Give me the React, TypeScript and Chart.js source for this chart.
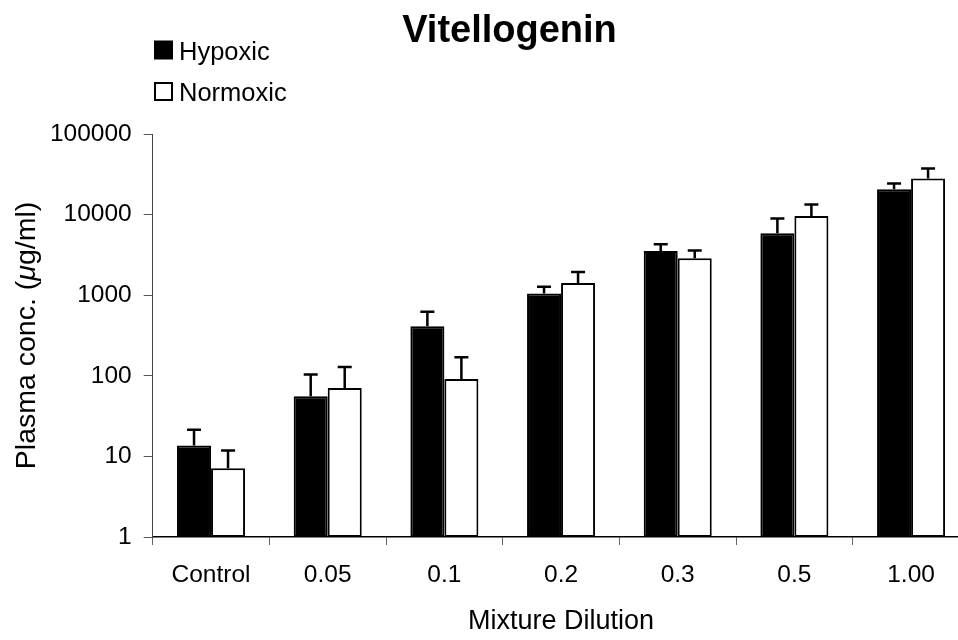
import { useEffect, useRef } from 'react';
import { Chart, registerables } from 'chart.js';

Chart.register(...registerables);

const categories = ['Control', '0.05', '0.1', '0.2', '0.3', '0.5', '1.00'];
const hypoxicMean = [13.7, 55.6, 413, 1052, 3540, 5870, 20700];
const hypoxicSE = [7.7, 48, 210, 225, 745, 3070, 3700];
const normoxicMean = [7.15, 70.7, 91.5, 1415, 2870, 9640, 28100];
const normoxicSE = [4.65, 58, 78.5, 522, 705, 3720, 9300];
const yTicks = [1, 10, 100, 1000, 10000, 100000];
const seriesLabels = ['Hypoxic', 'Normoxic'];
const titleText = 'Vitellogenin';
const xTitle = 'Mixture Dilution';
const yTitleParts: [string, boolean][] = [
  ['Plasma conc. (', false],
  ['μ', true],
  ['g/ml)', false],
];

const FONT = '"Liberation Sans", Arial, Helvetica, sans-serif';

const decor = {
  id: 'decor',
  afterDatasetsDraw(chart: any) {
    const ctx = chart.ctx;
    const y = chart.scales.y;
    ctx.save();
    ctx.strokeStyle = '#000';
    ctx.lineWidth = 2.5;
    chart.data.datasets.forEach((ds: any, di: number) => {
      const meta = chart.getDatasetMeta(di);
      meta.data.forEach((el: any, i: number) => {
        const v = ds.data[i] as number;
        const top = y.getPixelForValue(v + ds.errors[i]);
        const x = el.x;
        ctx.beginPath();
        ctx.moveTo(x, el.y);
        ctx.lineTo(x, top);
        ctx.moveTo(x - 7, top);
        ctx.lineTo(x + 7, top);
        ctx.stroke();
      });
    });
    ctx.restore();
  },
  afterDraw(chart: any) {
    const ctx = chart.ctx;
    const area = chart.chartArea;
    ctx.save();
    ctx.fillStyle = '#000';
    // title
    ctx.font = `bold 38px ${FONT}`;
    ctx.textAlign = 'center';
    ctx.textBaseline = 'alphabetic';
    ctx.fillText(titleText, 509.5, 42);
    // legend
    chart.data.datasets.forEach((ds: any, i: number) => {
      const sy = 41.5 + i * 41.5;
      ctx.fillStyle = ds.backgroundColor;
      ctx.fillRect(155, sy, 17, 17);
      ctx.strokeStyle = '#000';
      ctx.lineWidth = 2;
      ctx.strokeRect(155, sy, 17, 17);
      ctx.fillStyle = '#000';
      ctx.font = `25.5px ${FONT}`;
      ctx.textAlign = 'left';
      ctx.fillText(ds.label, 179, 60 + i * 40.5);
    });
    // x title
    ctx.font = `27px ${FONT}`;
    ctx.textAlign = 'center';
    ctx.fillText(xTitle, (area.left + area.right) / 2, 628.5);
    // y title with italic mu
    ctx.translate(35, (area.top + area.bottom) / 2);
    ctx.rotate(-Math.PI / 2);
    const widths = yTitleParts.map(([t, it]) => {
      ctx.font = `${it ? 'italic ' : ''}28.5px ${FONT}`;
      return ctx.measureText(t).width;
    });
    const total = widths.reduce((a, b) => a + b, 0);
    let x = -total / 2;
    ctx.textAlign = 'left';
    yTitleParts.forEach(([t, it], i) => {
      ctx.font = `${it ? 'italic ' : ''}28.5px ${FONT}`;
      ctx.fillText(t, x, 0);
      x += widths[i];
    });
    ctx.restore();
  },
};

export default function App() {
  const ref = useRef<HTMLCanvasElement | null>(null);

  useEffect(() => {
    if (!ref.current) return;
    const chart = new Chart(ref.current, {
      type: 'bar',
      data: {
        labels: categories,
        datasets: [
          {
            label: seriesLabels[0],
            data: hypoxicMean,
            errors: hypoxicSE,
            backgroundColor: '#000',
            borderColor: '#000',
            borderWidth: 2,
            borderSkipped: false,
          } as any,
          {
            label: seriesLabels[1],
            data: normoxicMean,
            errors: normoxicSE,
            backgroundColor: '#fff',
            borderColor: '#000',
            borderWidth: 2,
            borderSkipped: false,
          } as any,
        ],
      },
      options: {
        animation: false,
        responsive: false,
        devicePixelRatio: 1,
        categoryPercentage: 0.583,
        barPercentage: 1,
        layout: { padding: { top: 134, left: 0, right: 5.6, bottom: 0 } },
        plugins: {
          legend: { display: false },
          title: { display: false },
          tooltip: { enabled: false },
        },
        scales: {
          x: {
            grid: {
              display: true,
              drawOnChartArea: false,
              drawTicks: true,
              tickLength: 8,
              color: '#666',
              offset: true,
            },
            border: { display: true, color: '#000', width: 1.5 },
            ticks: {
              color: '#000',
              font: { family: FONT, size: 24.5 },
              padding: 16,
              maxRotation: 0,
            },
            afterFit: (s: any) => {
              s.height = 103;
            },
          },
          y: {
            type: 'logarithmic',
            min: 1,
            max: 100000,
            grid: {
              display: true,
              drawOnChartArea: false,
              drawTicks: true,
              tickLength: 9,
              color: '#555',
            },
            border: { display: true, color: '#444', width: 1 },
            ticks: {
              color: '#000',
              font: { family: FONT, size: 24.5 },
              padding: 12,
              callback: (v: any) => String(v),
            },
            afterBuildTicks: (s: any) => {
              s.ticks = yTicks.map((v) => ({ value: v }));
            },
            afterFit: (s: any) => {
              s.width = 152.7;
            },
          },
        },
      } as any,
      plugins: [decor],
    });
    return () => chart.destroy();
  }, []);

  return (
    <div
      style={{
        position: 'fixed',
        left: 0,
        top: 0,
        width: 958,
        height: 640,
        overflow: 'hidden',
        background: '#fff',
      }}
    >
      <canvas
        ref={ref}
        width={975}
        height={640}
        style={{ display: 'block', width: 975, height: 640 }}
      />
    </div>
  );
}
